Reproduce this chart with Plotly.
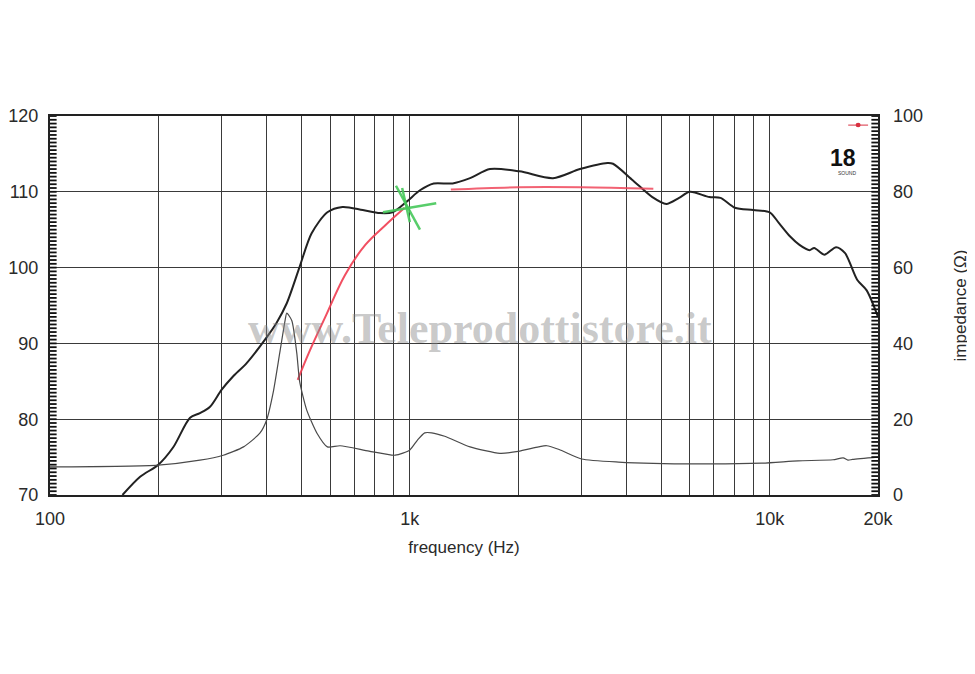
import plotly.graph_objects as go

# ---- data ----
spl_freq = [159, 178, 200, 220, 245, 261, 278, 300, 322, 352, 400, 426, 455, 494, 533, 590,
            650, 740, 825, 895, 980, 1067, 1165, 1315, 1470, 1670, 2017, 2500, 2970, 3540,
            3670, 4170, 4720, 5160, 5600, 6000, 6800, 7300, 8000, 9000, 10000,
            10600, 11400, 12100, 12900, 13300, 14200, 15300, 16200, 17500, 18600, 20000]
spl_db = [70, 72.4, 74, 76.3, 80.2, 80.8, 81.6, 83.9, 85.6, 87.4, 90.8, 92.7, 95.3, 100.1,
          104.5, 107.3, 108, 107.6, 107.2, 107.3, 108.7, 110.2, 111.1, 111.1, 111.8, 113.0,
          112.7, 111.8, 113.0, 113.8, 113.7, 111.5, 109.3, 108.4, 109.2, 110,
          109.3, 109.2, 107.9, 107.6, 107.3, 105.9, 104.1, 103, 102.3, 102.6, 101.7, 102.7,
          101.9, 98.4, 97, 93.5]

imp_freq = [100, 200, 261, 303, 345, 383, 400, 417, 435, 450, 455, 470, 485, 494, 517, 552,
            590, 640, 770, 910, 1000, 1050, 1100, 1150, 1250, 1470, 1780, 2000, 2280, 2400,
            2600, 3000, 3800, 6300, 9500, 12000, 15000, 16000, 16500, 17000, 20000]
imp_ohm = [7.4, 7.9, 9.2, 10.5, 12.7, 16.3, 19.8, 27, 37.5, 46, 48, 46, 37.5, 30, 22.4, 16.3,
           12.7, 13, 11.6, 10.5, 11.9, 14.5, 16.4, 16.4, 15.5, 12.7, 11, 11.5, 12.7, 13,
           12, 9.5, 8.7, 8.2, 8.4, 9, 9.3, 9.8, 9.2, 9.4, 10]

red_rise_freq = [488, 528, 581, 660, 752, 855, 967]
red_rise_db = [85.2, 89.1, 93.4, 99, 103, 105.6, 107.9]

red_flat_freq = [1300, 2000, 3000, 4750]
red_flat_db = [110.3, 110.6, 110.6, 110.4]

star_a_freq = [915, 1067]
star_a_db = [110.8, 105.0]
star_b_freq = [842, 1184]
star_b_db = [107.3, 108.5]
star_c_freq = [952, 1000]
star_c_db = [110.5, 106.0]

x_tick_vals = [100, 1000, 10000, 20000]
x_tick_text = ["100", "1k", "10k", "20k"]
x_minor_vals = [200, 300, 400, 500, 600, 700, 800, 900,
                2000, 3000, 4000, 5000, 6000, 7000, 8000, 9000]
db_labels = [70, 80, 90, 100, 110, 120]
db_grid = [80, 90, 100, 110]
ohm_labels = [0, 20, 40, 60, 80, 100]

# small tick marks: every 0.5 dB on the left, every 1 ohm on the right
db_tick_vals = [70 + 0.5 * i for i in range(101)]
ohm_tick_vals = list(range(0, 101))

FONT = "Liberation Sans, Arial, sans-serif"
GRID = "#3a3a3a"
TXT = "#2a2a2a"
TICK_FRAC = 0.008  # tick length as a fraction of the plot width

fig = go.Figure()

fig.add_trace(go.Scatter(x=imp_freq, y=imp_ohm, yaxis="y2", mode="lines",
                         line=dict(color="#4a4a4a", width=1.2, shape="spline", smoothing=0.6),
                         name="impedance", showlegend=False))
fig.add_trace(go.Scatter(x=spl_freq, y=spl_db, mode="lines",
                         line=dict(color="#222222", width=2, shape="spline", smoothing=0.8),
                         name="SPL", showlegend=False))
fig.add_trace(go.Scatter(x=red_rise_freq, y=red_rise_db, mode="lines",
                         line=dict(color="rgba(240,60,80,0.9)", width=2, shape="spline"),
                         showlegend=False))
fig.add_trace(go.Scatter(x=red_flat_freq, y=red_flat_db, mode="lines",
                         line=dict(color="rgba(240,70,90,0.85)", width=2, shape="spline"),
                         showlegend=False))
for fx, fy in [(star_a_freq, star_a_db), (star_b_freq, star_b_db), (star_c_freq, star_c_db)]:
    fig.add_trace(go.Scatter(x=fx, y=fy, mode="lines",
                             line=dict(color="rgba(70,200,90,0.9)", width=2.5),
                             showlegend=False))

# inner tick marks along the two vertical frame edges
for v in db_tick_vals:
    fig.add_shape(type="line", xref="x domain", yref="y", x0=0, x1=TICK_FRAC, y0=v, y1=v,
                  line=dict(color="#111", width=1.8), layer="above")
for v in ohm_tick_vals:
    fig.add_shape(type="line", xref="x domain", yref="y2", x0=1 - TICK_FRAC, x1=1, y0=v, y1=v,
                  line=dict(color="#111", width=1.8), layer="above")

fig.update_layout(
    width=967, height=666,
    margin=dict(l=42, r=97, t=108, b=179, autoexpand=False),
    paper_bgcolor="white", plot_bgcolor="white",
    font=dict(family=FONT, color=TXT, size=18),
    xaxis=dict(type="log", range=[2, 4.30103],
               tickvals=x_tick_vals, ticktext=x_tick_text,
               showgrid=True, gridcolor=GRID, gridwidth=1.3,
               ticks="", showline=True, linecolor="#222", linewidth=2, mirror=True,
               ticklabelstandoff=6,
               tickfont=dict(size=18, color=TXT),
               minor=dict(tickvals=x_minor_vals, showgrid=True, gridcolor=GRID,
                          gridwidth=1.3, ticks=""),
               title=dict(text="frequency (Hz)", font=dict(size=17, color=TXT), standoff=14),
               zeroline=False),
    yaxis=dict(range=[70, 120], tickmode="array", tickvals=db_labels,
               showgrid=False, ticks="",
               showline=True, linecolor="#222", linewidth=2,
               mirror=True, ticklabelstandoff=6,
               tickfont=dict(size=18, color=TXT),
               minor=dict(tickvals=db_grid, showgrid=True, gridcolor=GRID, gridwidth=1.3,
                          ticks=""),
               zeroline=False),
    yaxis2=dict(range=[0, 100], tickmode="array", tickvals=ohm_labels,
                overlaying="y", side="right",
                showgrid=False, ticks="",
                ticklabelstandoff=14,
                tickfont=dict(size=18, color=TXT),
                title=dict(text="impedance (Ω)", font=dict(size=17, color=TXT), standoff=32),
                zeroline=False),
)

# watermark
fig.add_annotation(xref="paper", yref="paper", x=0.519, y=0.44,
                   text="<b>www.Teleprodottistore.it</b>", showarrow=False,
                   font=dict(family="Liberation Serif, Times New Roman, serif", size=44,
                             color="rgba(135,135,135,0.45)"))

# 18 Sound logo
fig.add_shape(type="line", xref="paper", yref="paper", x0=0.964, x1=0.988, y0=0.976, y1=0.976,
              line=dict(color="#d83040", width=1))
fig.add_shape(type="circle", xref="paper", yref="paper", x0=0.973, x1=0.979, y0=0.970, y1=0.982,
              fillcolor="#d83040", line=dict(width=0))
fig.add_annotation(xref="paper", yref="paper", x=0.976, y=0.930, text="<b>18</b>",
                   showarrow=False, font=dict(family=FONT, size=23, color="#111"))
fig.add_annotation(xref="paper", yref="paper", x=0.976, y=0.850, yanchor="middle",
                   text="SOUND", showarrow=False,
                   font=dict(size=5, color="#333"))

fig.write_html("out.html")
